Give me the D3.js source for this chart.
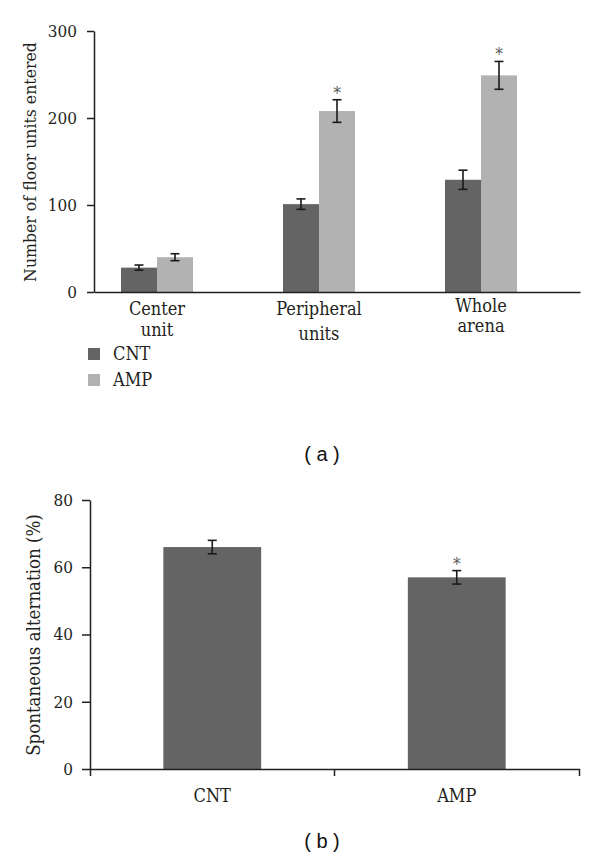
<!DOCTYPE html>
<html>
<head>
<meta charset="utf-8">
<script src="https://cdn.jsdelivr.net/npm/d3@7/dist/d3.min.js"></script>
<style>
  html, body { margin: 0; padding: 0; background: #fff; }
  svg { display: block; }
</style>
</head>
<body>
<svg id="chart" width="600" height="856"></svg>
<script>
// ---------- Panel (a) data ----------
const categoriesA = ["Center unit", "Peripheral units", "Whole arena"];
const seriesA = ["CNT", "AMP"];
const cntValues = [28, 101, 129];
const cntErrors = [3, 6, 11];
const ampValues = [40, 208, 249];
const ampErrors = [4, 13, 16];
const ampSignificant = [false, true, true];
const yTicksA = [0, 100, 200, 300];

// ---------- Panel (b) data ----------
const categoriesB = ["CNT", "AMP"];
const valuesB = [66, 57];
const errorsB = [2, 2];
const significantB = [false, true];
const yTicksB = [0, 20, 40, 60, 80];

const colors = { CNT: "#646464", AMP: "#b2b2b2" };
const ink = "#231f20";
const SERIF = "DejaVu Serif Condensed, DejaVu Serif";
const SANS = "Liberation Sans";

const svg = d3.select("#chart");
svg.append("rect").attr("width", 600).attr("height", 856).attr("fill", "#fff");

function txt(parent, size) {
  return parent.append("text").style("font-family", SERIF).style("font-size", size + "px").attr("fill", ink);
}

// ================= Panel (a) =================
const ya = d3.scaleLinear().domain([0, 300]).range([292, 31]);
const x0 = d3.scaleBand().domain(categoriesA).range([94, 580]).padding(0);
const groupW = x0.bandwidth() * 2 / 3; // three slots, third empty
const x1 = d3.scaleBand().domain(seriesA)
  .range([x0.bandwidth() / 6, x0.bandwidth() / 6 + groupW * 2 / 3]).padding(0);

const gA = svg.append("g");

const rowsA = categoriesA.map((c, i) => ({
  cat: c,
  items: [
    { s: "CNT", v: cntValues[i], e: cntErrors[i], sig: false },
    { s: "AMP", v: ampValues[i], e: ampErrors[i], sig: ampSignificant[i] }
  ]
}));

rowsA.forEach(r => {
  r.items.forEach(d => {
    const bx = x0(r.cat) + x1(d.s);
    const bw = x1.bandwidth();
    gA.append("rect")
      .attr("x", bx).attr("y", ya(d.v))
      .attr("width", bw).attr("height", ya(0) - ya(d.v))
      .attr("fill", colors[d.s]);
    const cx = bx + bw / 2;
    const capW = 4.5;
    const eb = gA.append("g").attr("stroke", "#1a1a1a").attr("stroke-width", 1.6);
    eb.append("line").attr("x1", cx).attr("x2", cx).attr("y1", ya(d.v + d.e)).attr("y2", ya(d.v - d.e));
    eb.append("line").attr("x1", cx - capW).attr("x2", cx + capW).attr("y1", ya(d.v + d.e)).attr("y2", ya(d.v + d.e));
    eb.append("line").attr("x1", cx - capW).attr("x2", cx + capW).attr("y1", ya(d.v - d.e)).attr("y2", ya(d.v - d.e));
    if (d.sig) {
      txt(gA, 17).attr("x", cx).attr("y", ya(d.v + d.e) - 1)
        .attr("text-anchor", "middle").attr("fill", "#555").text("*");
    }
  });
});

// y axis
const axA = gA.append("g").attr("transform", "translate(94,0)")
  .call(d3.axisLeft(ya).tickValues(yTicksA).tickSize(7).tickPadding(10).tickSizeOuter(0));
axA.select(".domain").attr("stroke", ink).attr("stroke-width", 1.5);
axA.selectAll(".tick line").attr("stroke", ink).attr("stroke-width", 1.5);
axA.selectAll(".tick text").style("font-family", SERIF).style("font-size", "17px").attr("fill", ink);

// x axis (line only)
const axXA = gA.append("g").attr("transform", `translate(0,${ya(0)})`)
  .call(d3.axisBottom(x0).tickSize(0).tickFormat(""));
axXA.select(".domain").attr("stroke", ink).attr("stroke-width", 1.5);

// category labels (two lines), centered under the bar pair
const line1Base = { "Center unit": 315, "Peripheral units": 315, "Whole arena": 312 };
const line2Base = { "Center unit": 336, "Peripheral units": 340, "Whole arena": 332 };
categoriesA.forEach(c => {
  const cx = x0(c) + x1("AMP");
  const words = c.split(" ");
  txt(gA, 18).attr("x", cx).attr("y", line1Base[c]).attr("text-anchor", "middle").text(words[0]);
  txt(gA, 18).attr("x", cx).attr("y", line2Base[c]).attr("text-anchor", "middle").text(words[1]);
});

// y title
txt(gA, 17.5).attr("transform", "translate(30,162) rotate(-90)")
  .attr("text-anchor", "middle").attr("dominant-baseline", "central")
  .text("Number of floor units entered");

// legend
seriesA.forEach((s, i) => {
  const ly = 354 + i * 26;
  gA.append("rect").attr("x", 88).attr("y", ly - 6).attr("width", 12).attr("height", 12).attr("fill", colors[s]);
  txt(gA, 18).attr("x", 113).attr("y", ly + 6).text(s);
});

// panel label
svg.append("text").style("font-family", SANS).style("font-size", "20px")
  .attr("x", 322).attr("y", 461).attr("text-anchor", "middle")
  .attr("fill", "#111").attr("xml:space", "preserve").text("( a )");

// ================= Panel (b) =================
const yb = d3.scaleLinear().domain([0, 80]).range([769, 500]);
const xb = d3.scaleBand().domain(categoriesB).range([90, 579]).padding(0);
const gB = svg.append("g");

categoriesB.forEach((c, i) => {
  const bw = xb.bandwidth() * 0.4;
  const bx = xb(c) + xb.bandwidth() * 0.3;
  gB.append("rect").attr("x", bx).attr("y", yb(valuesB[i]))
    .attr("width", bw).attr("height", yb(0) - yb(valuesB[i])).attr("fill", "#646464");
  const cx = bx + bw / 2;
  const capW = 4.5;
  const eb = gB.append("g").attr("stroke", "#1a1a1a").attr("stroke-width", 1.6);
  const top = yb(valuesB[i] + errorsB[i]), bot = yb(valuesB[i] - errorsB[i]);
  eb.append("line").attr("x1", cx).attr("x2", cx).attr("y1", top).attr("y2", bot);
  eb.append("line").attr("x1", cx - capW).attr("x2", cx + capW).attr("y1", top).attr("y2", top);
  eb.append("line").attr("x1", cx - capW).attr("x2", cx + capW).attr("y1", bot).attr("y2", bot);
  if (significantB[i]) {
    txt(gB, 17).attr("x", cx).attr("y", top - 1).attr("text-anchor", "middle").attr("fill", "#555").text("*");
  }
});

const axB = gB.append("g").attr("transform", "translate(90,0)")
  .call(d3.axisLeft(yb).tickValues(yTicksB).tickSize(8).tickPadding(9).tickSizeOuter(0));
axB.select(".domain").attr("stroke", ink).attr("stroke-width", 1.5);
axB.selectAll(".tick line").attr("stroke", ink).attr("stroke-width", 1.5);
axB.selectAll(".tick text").style("font-family", SERIF).style("font-size", "17px").attr("fill", ink);

const axXB = gB.append("g").attr("transform", `translate(0,${yb(0)})`)
  .call(d3.axisBottom(xb).tickSizeInner(0).tickSizeOuter(7).tickPadding(20));
axXB.select(".domain").attr("stroke", ink).attr("stroke-width", 1.5);
axXB.selectAll(".tick text").style("font-family", SERIF).style("font-size", "18px").attr("fill", ink);
categoriesB.slice(1).forEach(c => {
  axXB.append("line").attr("x1", xb(c)).attr("x2", xb(c)).attr("y1", 0).attr("y2", 7)
    .attr("stroke", ink).attr("stroke-width", 1.5);
});

txt(gB, 18.5).attr("transform", "translate(33,635) rotate(-90)")
  .attr("text-anchor", "middle").attr("dominant-baseline", "central")
  .text("Spontaneous alternation (%)");

svg.append("text").style("font-family", SANS).style("font-size", "20px")
  .attr("x", 322).attr("y", 848).attr("text-anchor", "middle")
  .attr("fill", "#111").attr("xml:space", "preserve").text("( b )");
</script>
</body>
</html>
